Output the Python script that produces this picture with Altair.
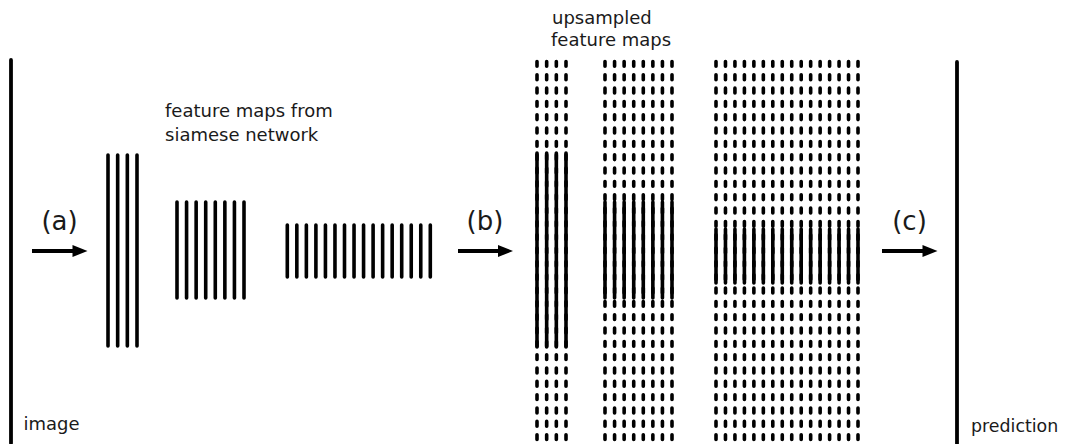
import altair as alt
import pandas as pd
import numpy as np

# ---------------- data ----------------
# feature maps from siamese network (solid columns)
fm_counts = [4, 8, 16]
fm_x_first = [108, 177, 287.3]
fm_x_last = [137, 244, 430.3]
fm_top = [155, 202, 225]
fm_bottom = [346, 298, 277]

# upsampled feature maps (dashed columns with solid middle part)
up_counts = [4, 8, 16]
up_x_first = [537, 605, 716]
up_x_last = [566, 672, 858]
up_solid_top = [153, 202, 229]
up_solid_bottom = [347, 298, 283]
up_dash_top = 61.5
up_dash_bottom = 460

# image / prediction lines
edge_names = ["image", "prediction"]
edge_x = [11, 957]
edge_top = [60, 62]
edge_bottom = [443, 446]

# arrows
arrow_labels = ["(a)", "(b)", "(c)"]
arrow_start = [32, 458, 882]
arrow_tip = [87.5, 513, 937.5]
arrow_y = [251, 251, 251]
arrow_label_x = [59.5, 485, 909.5]
arrow_label_y = [229.5, 229.5, 229.5]

# captions
caption_text = ["feature maps from", "siamese network", "upsampled", "feature maps",
                "image"]
caption_x = [165, 165, 552, 551, 23.5]
caption_y = [116.5, 140.5, 23.5, 45.5, 429.5]

# caption at the right edge
edge_caption_text = ["prediction"]
edge_caption_x = [971]
edge_caption_y = [432]

# ---------------- tables ----------------
def columns(counts, firsts, lasts, tops, bottoms):
    rows = []
    for n, a, b, t, btm in zip(counts, firsts, lasts, tops, bottoms):
        for x in np.linspace(a, b, n):
            rows.append({"x": float(x), "y": float(t), "y2": float(btm)})
    return rows

solid_rows = columns(fm_counts, fm_x_first, fm_x_last, fm_top, fm_bottom)
solid_rows += columns(up_counts, up_x_first, up_x_last, up_solid_top, up_solid_bottom)
solid_df = pd.DataFrame(solid_rows)

dash_df = pd.DataFrame(columns(up_counts, up_x_first, up_x_last,
                               [up_dash_top] * 3, [up_dash_bottom] * 3))

edge_df = pd.DataFrame({"name": edge_names, "x": edge_x, "y": edge_top, "y2": edge_bottom})

head_len = 15
arrow_df = pd.DataFrame({
    "label": arrow_labels,
    "x": arrow_start,
    "x2": [t - head_len / 2 for t in arrow_tip],
    "hx": [t - head_len / 2 for t in arrow_tip],
    "y": arrow_y,
    "lx": arrow_label_x,
    "ly": arrow_label_y,
})

cap_df = pd.DataFrame({"text": caption_text, "x": caption_x, "y": caption_y})
cap2_df = pd.DataFrame({"text": edge_caption_text, "x": edge_caption_x, "y": edge_caption_y})

# ---------------- scales ----------------
W, H = 1052, 436
xs = alt.Scale(domain=[8, 8 + W], nice=False, zero=False)
ys = alt.Scale(domain=[8, 8 + H], nice=False, zero=False, reverse=True)

def X(f):
    return alt.X(f, type="quantitative", scale=xs, axis=None)

def Y(f):
    return alt.Y(f, type="quantitative", scale=ys, axis=None)

dashed = alt.Chart(dash_df).mark_rule(
    color="black", strokeWidth=3.6, strokeDash=[4.8, 8.53], strokeCap="round"
).encode(x=X("x"), y=Y("y"), y2="y2")

solid = alt.Chart(solid_df).mark_rule(
    color="black", strokeWidth=3.6, strokeCap="round"
).encode(x=X("x"), y=Y("y"), y2="y2")

edges = alt.Chart(edge_df).mark_rule(
    color="black", strokeWidth=3.8, strokeCap="round"
).encode(x=X("x"), y=Y("y"), y2="y2")

shafts = alt.Chart(arrow_df).mark_rule(
    color="black", strokeWidth=3.8
).encode(x=X("x"), x2="x2", y=Y("y"))

heads = alt.Chart(arrow_df).mark_point(
    shape="M -1 -0.8 L 1 0 L -1 0.8 Z", size=head_len ** 2, filled=True,
    color="black", opacity=1, strokeWidth=0
).encode(x=X("hx"), y=Y("y"))

arrow_text = alt.Chart(arrow_df).mark_text(
    font="DejaVu Sans", fontSize=26, color="#1a1a1a", align="center", baseline="alphabetic"
).encode(x=X("lx"), y=Y("ly"), text="label")

captions = alt.Chart(cap_df).mark_text(
    font="DejaVu Sans", fontSize=18, color="#1a1a1a", align="left", baseline="alphabetic"
).encode(x=X("x"), y=Y("y"), text="text")

captions2 = alt.Chart(cap2_df).mark_text(
    font="DejaVu Sans", fontSize=17.4, color="#1a1a1a", align="left", baseline="alphabetic"
).encode(x=X("x"), y=Y("y"), text="text")

chart = alt.layer(dashed, solid, edges, shafts, heads, arrow_text, captions, captions2).properties(
    width=W, height=H, padding=0, autosize=alt.AutoSizeParams(type="none"),
    background="white"
).configure_view(stroke=None)

chart.save("out.html", embed_options={"renderer": "svg", "actions": False})
